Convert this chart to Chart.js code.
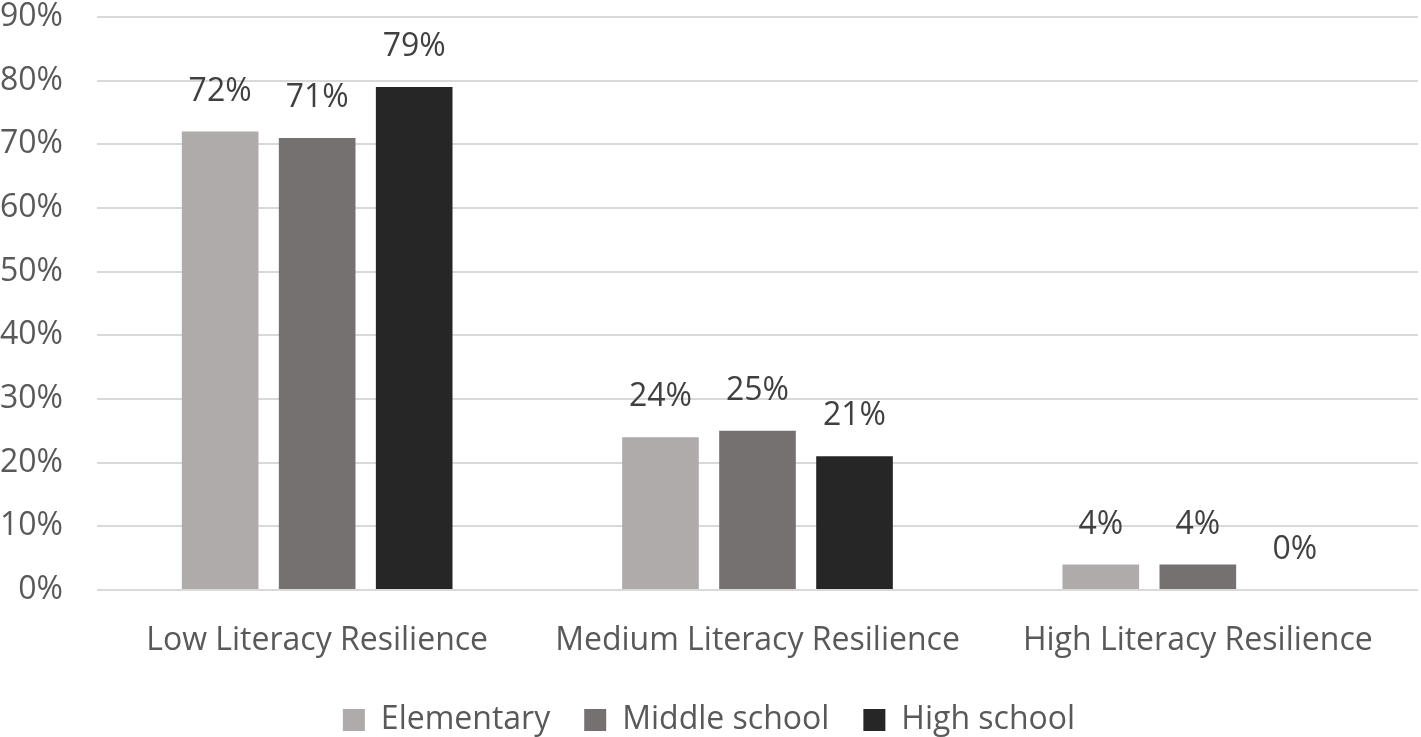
<!DOCTYPE html>
<html>
<head>
<meta charset="utf-8">
<script src="https://cdn.jsdelivr.net/npm/chart.js@4"></script>
<style>
html, body { margin: 0; padding: 0; background: #fff; }
#wrap { width: 1421px; height: 737px; position: relative; }
</style>
</head>
<body>
<div id="wrap"><canvas id="chart"></canvas></div>
<script>
const categories = ['Low Literacy Resilience', 'Medium Literacy Resilience', 'High Literacy Resilience']
const elementary = [72, 24, 4]
const middleSchool = [71, 25, 4]
const highSchool = [79, 21, 0]
const seriesNames = ['Elementary', 'Middle school', 'High school']
const seriesColors = ['#aeabaa', '#757170', '#262626']

const textColor = '#595959'
const fontFamily = '"Open Sans", "Noto Sans", sans-serif'
const fontSize = 32

// labels above each bar
const barLabels = {
    id: 'barLabels',
    afterDatasetsDraw(chart) {
        const ctx = chart.ctx
        ctx.save()
        ctx.font = fontSize + 'px ' + fontFamily
        ctx.fillStyle = '#404040'
        ctx.textAlign = 'center'
        ctx.textBaseline = 'middle'
        chart.data.datasets.forEach((ds, i) => {
            const meta = chart.getDatasetMeta(i)
            meta.data.forEach((bar, j) => {
                ctx.fillText(ds.data[j] + '%', bar.x, bar.y - 40)
            })
        })
        ctx.restore()
    }
}

const chartElement = document.querySelector('#chart')
const chartContext = chartElement.getContext('2d')

new Chart(chartContext, {
    type: 'bar',
    data: {
        labels: categories,
        datasets: [elementary, middleSchool, highSchool].map((data, i) => ({
            label: seriesNames[i],
            data: data,
            backgroundColor: seriesColors[i],
            categoryPercentage: 0.661,
            barPercentage: 0.79
        }))
    },
    options: {
        responsive: true,
        maintainAspectRatio: false,
        animation: false,
        layout: { padding: { top: 17, right: 3, left: 0, bottom: -9 } },
        plugins: {
            legend: {
                position: 'bottom',
                labels: {
                    color: textColor,
                    font: { family: fontFamily, size: fontSize },
                    boxWidth: 22,
                    boxHeight: 22,
                    padding: 34
                }
            },
            tooltip: { enabled: false }
        },
        scales: {
            x: {
                grid: { display: false },
                border: { display: false },
                afterFit: axis => { axis.height = 80 },
                ticks: {
                    color: textColor,
                    font: { family: fontFamily, size: fontSize },
                    padding: 24
                }
            },
            y: {
                min: 0,
                max: 90,
                grid: { color: '#d9d9d9', lineWidth: 2, drawTicks: false },
                border: { display: false },
                afterFit: axis => {
                    axis.width = 97
                    axis.paddingTop = 0
                    axis.paddingBottom = 0
                },
                ticks: {
                    stepSize: 10,
                    color: textColor,
                    font: { family: fontFamily, size: fontSize },
                    padding: 34,
                    callback: v => v + '%'
                }
            }
        }
    },
    plugins: [barLabels]
})
</script>
</body>
</html>
